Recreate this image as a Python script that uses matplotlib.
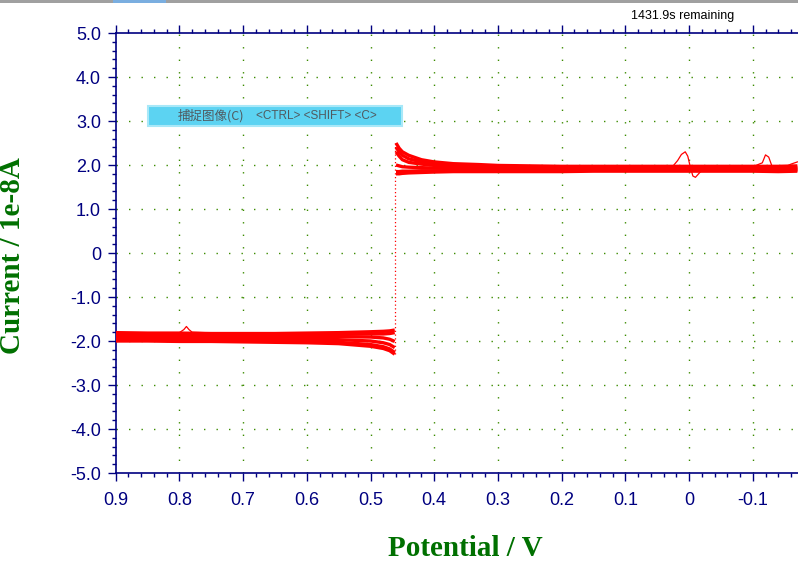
import matplotlib
matplotlib.use("Agg")
import matplotlib.pyplot as plt
from matplotlib.ticker import MultipleLocator
from matplotlib.patches import FancyBboxPatch, Rectangle

plt.rcParams['axes.unicode_minus'] = False

# ---------------- data ----------------
x_ticks = [0.9, 0.8, 0.7, 0.6, 0.5, 0.4, 0.3, 0.2, 0.1, 0.0, -0.1]
x_tick_labels = ["0.9", "0.8", "0.7", "0.6", "0.5", "0.4", "0.3", "0.2", "0.1", "0", "-0.1"]
y_ticks = [5.0, 4.0, 3.0, 2.0, 1.0, 0.0, -1.0, -2.0, -3.0, -4.0, -5.0]
y_tick_labels = ["5.0", "4.0", "3.0", "2.0", "1.0", "0", "-1.0", "-2.0", "-3.0", "-4.0", "-5.0"]

# cathodic branch (0.9 V -> 0.46 V), several cycles
pot_low = [0.90, 0.85, 0.80, 0.75, 0.70, 0.65, 0.60, 0.55, 0.50, 0.48, 0.47, 0.462]
cur_low_1 = [-1.81, -1.82, -1.82, -1.83, -1.83, -1.83, -1.82, -1.81, -1.79, -1.78, -1.77, -1.75]
cur_low_2 = [-1.85, -1.86, -1.86, -1.87, -1.87, -1.87, -1.86, -1.85, -1.84, -1.84, -1.83, -1.81]
cur_low_3 = [-1.89, -1.89, -1.90, -1.90, -1.91, -1.91, -1.90, -1.90, -1.91, -1.93, -1.96, -2.01]
cur_low_4 = [-1.93, -1.93, -1.94, -1.94, -1.95, -1.95, -1.96, -1.97, -2.00, -2.04, -2.08, -2.15]
cur_low_5 = [-1.96, -1.97, -1.97, -1.98, -1.99, -2.00, -2.01, -2.03, -2.08, -2.13, -2.18, -2.26]
cur_low_6 = [-2.00, -2.00, -2.01, -2.01, -2.02, -2.03, -2.04, -2.06, -2.12, -2.17, -2.22, -2.30]
# small spike on one cathodic sweep
pot_low_spike = [0.83, 0.80, 0.793, 0.789, 0.785, 0.78, 0.76]
cur_low_spike = [-1.82, -1.81, -1.74, -1.67, -1.74, -1.80, -1.81]

# anodic branch (0.46 V -> -0.17 V), several cycles
pot_high = [0.460, 0.455, 0.45, 0.44, 0.42, 0.40, 0.37, 0.33, 0.30, 0.25, 0.20, 0.15,
            0.10, 0.05, 0.00, -0.05, -0.10, -0.14, -0.17]
cur_high_1 = [2.50, 2.38, 2.30, 2.22, 2.12, 2.07, 2.03, 2.01, 1.99, 1.98, 1.97, 1.97,
              1.97, 1.97, 1.97, 1.97, 1.97, 1.97, 1.98]
cur_high_2 = [2.40, 2.30, 2.22, 2.14, 2.07, 2.03, 2.00, 1.98, 1.96, 1.95, 1.95, 1.94,
              1.94, 1.94, 1.94, 1.94, 1.94, 1.94, 1.95]
cur_high_3 = [2.30, 2.20, 2.12, 2.06, 2.02, 1.99, 1.96, 1.95, 1.94, 1.93, 1.92, 1.92,
              1.92, 1.92, 1.92, 1.92, 1.92, 1.92, 1.92]
cur_high_4 = [2.00, 1.98, 1.96, 1.95, 1.94, 1.93, 1.92, 1.91, 1.90, 1.90, 1.90, 1.90,
              1.90, 1.90, 1.90, 1.90, 1.90, 1.90, 1.90]
cur_high_5 = [1.85, 1.85, 1.86, 1.86, 1.87, 1.87, 1.87, 1.87, 1.87, 1.88, 1.88, 1.88,
              1.88, 1.88, 1.88, 1.88, 1.88, 1.88, 1.88]
cur_high_6 = [1.80, 1.80, 1.81, 1.82, 1.83, 1.84, 1.85, 1.85, 1.85, 1.85, 1.85, 1.86,
              1.86, 1.86, 1.86, 1.86, 1.86, 1.85, 1.86]
# spikes / dips on single anodic sweeps
pot_high_spike = [0.05, 0.025, 0.018, 0.012, 0.006, 0.002, -0.002, -0.006, -0.010, -0.020,
                  -0.06, -0.10, -0.115, -0.12, -0.125, -0.13, -0.14, -0.15, -0.16, -0.17]
cur_high_spike = [1.97, 1.98, 2.10, 2.24, 2.30, 2.20, 1.95, 1.75, 1.72, 1.88,
                  1.95, 1.96, 2.05, 2.23, 2.18, 1.98, 1.96, 1.95, 2.02, 2.07]

# potential step between branches
jump_pot = [0.462, 0.462]
jump_cur = [-2.30, 2.50]

# ---------------- figure ----------------
fig = plt.figure(figsize=(7.98, 5.61), dpi=100)
fig.patch.set_facecolor("white")
ax = fig.add_axes([115.7 / 798, 1 - 473 / 561, 1 - 115.7 / 798, 440 / 561])

red = "#ff0000"
for cur in [cur_low_1, cur_low_2, cur_low_3, cur_low_4, cur_low_5, cur_low_6]:
    ax.plot(pot_low, cur, color=red, lw=2.4, solid_capstyle="butt", zorder=3)
for cur in [cur_high_1, cur_high_2, cur_high_3, cur_high_4, cur_high_5, cur_high_6]:
    ax.plot(pot_high, cur, color=red, lw=2.4, solid_capstyle="butt", zorder=3)
ax.plot(pot_low_spike, cur_low_spike, color=red, lw=0.9, zorder=3)
ax.plot(pot_high_spike, cur_high_spike, color=red, lw=0.9, zorder=3)
ax.plot(jump_pot, jump_cur, color=red, lw=0.9, linestyle=(0, (1, 2)), zorder=3)

ax.set_xlim(0.9, -0.171)
ax.set_ylim(-5.0, 5.0)

navy = "#000080"
ax.set_xticks(x_ticks)
ax.set_xticklabels(x_tick_labels)
ax.set_yticks(y_ticks)
ax.set_yticklabels(y_tick_labels)
ax.xaxis.set_minor_locator(MultipleLocator(0.02))
ax.yaxis.set_minor_locator(MultipleLocator(0.2))

ax.tick_params(axis="both", which="major", direction="out", length=5.5, width=1.0,
               color=navy, labelcolor=navy, labelsize=13)
ax.tick_params(axis="both", which="minor", direction="out", length=2.8, width=1.0, color=navy)
ax.tick_params(axis="x", which="both", top=True, labeltop=False)
ax.tick_params(axis="x", which="major", pad=8)
ax.tick_params(axis="y", which="major", pad=5)
for lab in ax.get_xticklabels() + ax.get_yticklabels():
    lab.set_fontfamily("Liberation Sans")

for side in ["left", "bottom", "top"]:
    ax.spines[side].set_color(navy)
    ax.spines[side].set_linewidth(1.2)
ax.spines["right"].set_visible(False)

# dotted green grid at inner major ticks
grid_color = "#3c8c00"
for xv in x_ticks[1:]:
    ax.axvline(xv, color=grid_color, lw=1.0, linestyle=(0, (1, 8)), zorder=1)
for yv in y_ticks[1:-1]:
    ax.axhline(yv, color=grid_color, lw=1.0, linestyle=(0, (1, 8)), zorder=1)

green = "#007000"
fig.text(465 / 798, 1 - 549 / 561, "Potential / V", ha="center", va="center",
         color=green, fontsize=21, fontweight="bold", family="Liberation Serif")
fig.text(13 / 798, 1 - 256 / 561, "Current / 1e-8A", ha="center", va="center",
         rotation=90, color=green, fontsize=21, fontweight="bold", family="Liberation Serif")

# window decorations visible in the screenshot
fig.patches.append(Rectangle((0, 1 - 3 / 561), 1, 3 / 561, transform=fig.transFigure,
                             facecolor="#a0a0a0", edgecolor="none"))
fig.patches.append(Rectangle((113 / 798, 1 - 3 / 561), 53 / 798, 3 / 561, transform=fig.transFigure,
                             facecolor="#7aaee0", edgecolor="none"))
fig.text(683 / 798, 1 - 16 / 561, "1431.9s remaining", ha="center", va="center",
         color="black", fontsize=9, family="Liberation Sans")

box = FancyBboxPatch((148 / 798, 1 - 126 / 561), 254 / 798, 20 / 561,
                     boxstyle="square,pad=0", transform=fig.transFigure,
                     facecolor="#5cd3f2", edgecolor="#a8e8f8", lw=1.5, zorder=10)
fig.patches.append(box)
fig.text(178 / 798, 1 - 116 / 561, "捕捉图像(C)", ha="left", va="center",
         color="#505a60", fontsize=9, family=["Noto Sans CJK SC", "DejaVu Sans"], zorder=11)
fig.text(256 / 798, 1 - 116 / 561, "<CTRL> <SHIFT> <C>", ha="left", va="center",
         color="#505a60", fontsize=8.5, family="Liberation Sans", zorder=11)

fig.savefig("out.png", dpi=100)
